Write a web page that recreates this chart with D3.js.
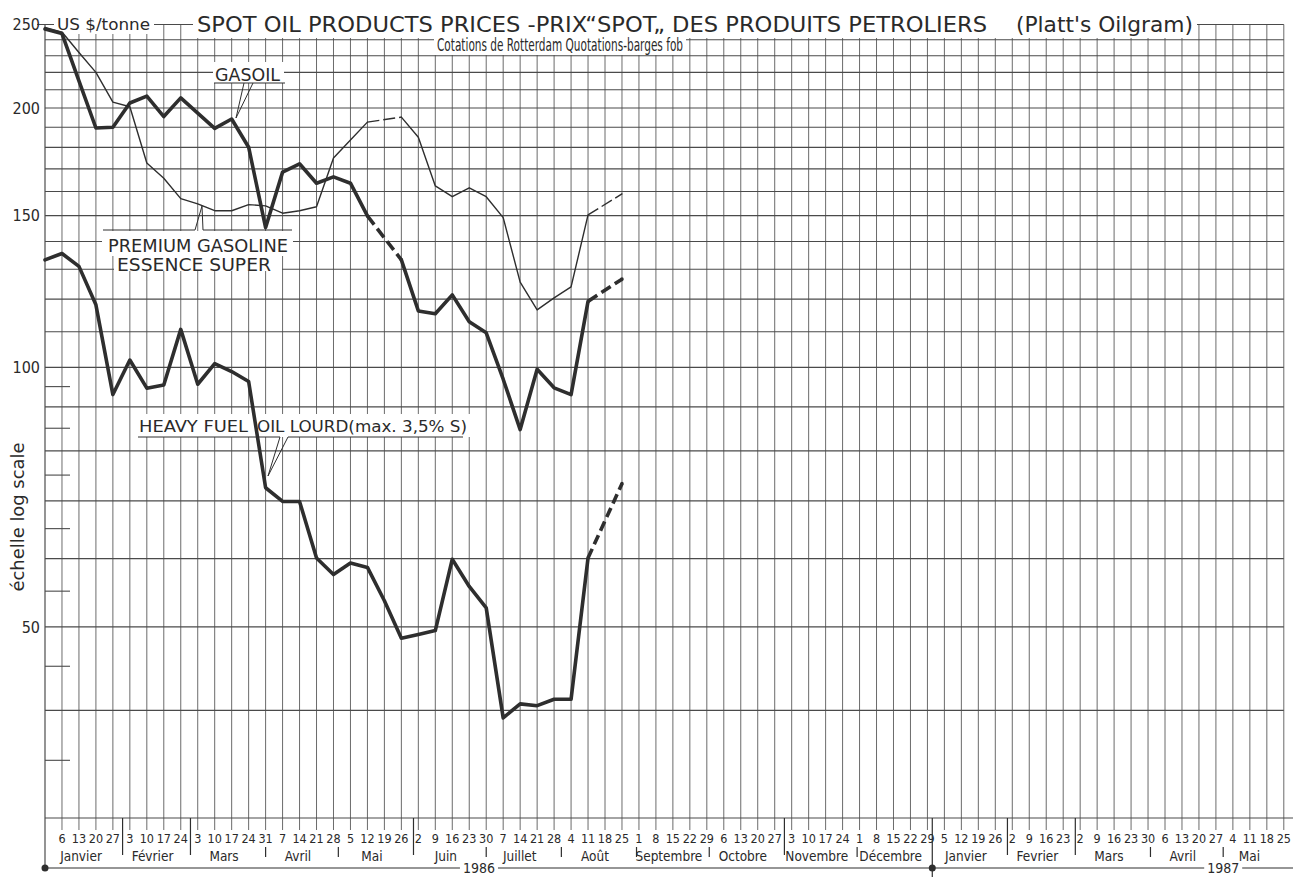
<!DOCTYPE html>
<html><head><meta charset="utf-8">
<script src="https://cdn.jsdelivr.net/npm/d3@7"></script>
<style>
html,body{margin:0;padding:0;background:#fff;}
svg{display:block;}
text{font-family:"DejaVu Sans Condensed","DejaVu Sans",sans-serif;font-stretch:condensed;fill:#2a2a2a;}
</style></head><body>
<svg id="c" width="1295" height="877"></svg>
<script>
// ---------------- data ----------------
const dates = ["1985-12-30","1986-01-06","1986-01-13","1986-01-20","1986-01-27",
  "1986-02-03","1986-02-10","1986-02-17","1986-02-24",
  "1986-03-03","1986-03-10","1986-03-17","1986-03-24","1986-03-31",
  "1986-04-07","1986-04-14","1986-04-21","1986-04-28",
  "1986-05-05","1986-05-12","1986-05-19","1986-05-26",
  "1986-06-02","1986-06-09","1986-06-16","1986-06-23","1986-06-30",
  "1986-07-07","1986-07-14","1986-07-21","1986-07-28",
  "1986-08-04","1986-08-11","1986-08-18","1986-08-25"];
const gasoil = [247,244,215,189.6,190,202.7,206.5,195.5,205.5,197.3,189.4,194.2,180.1,145.3,
  168.5,172.3,163.6,166.4,163.6,149.9,null,133.3,116.3,115.4,121.4,113,109.7,96.9,84.7,99.5,
  94.7,93,119.3,null,126.6];
const premiumGasoline = [248,245,232,220,203.2,200.7,172.7,165.8,157,154.8,152,152,154.5,154,
  151,152,153.6,175,183.6,192.6,null,195.2,185,162.4,157.8,161.6,157.8,149.2,125.6,116.6,
  120.4,124,150.3,null,159];
const heavyFuel = [133.3,135.6,131,118.2,93,102,94.6,95.4,110.7,95.6,101,98.9,96.3,72.5,
  69.9,69.9,60.1,57.5,59.3,58.6,53.6,48.5,49.0,49.5,59.9,55.7,52.6,39.2,40.7,40.5,41.2,41.2,
  60.1,null,73.3];
const yTickLabels = [250,200,150,100,50];
const yGridFull = [30,40,50,60,70,80,90,100,110,120,130,140,150,160,170,180,190,200,210,220,230,240,250];
const yGridShort = [35,45,55,65,75,85,95];
const monthNames = ["Janvier","Février","Mars","Avril","Mai","Juin","Juillet","Août","Septembre",
  "Octobre","Novembre","Décembre","Janvier","Fevrier","Mars","Avril","Mai"];
const yearLabels = ["1986","1987"];
const titleMain = "SPOT OIL PRODUCTS PRICES -PRIX\u201CSPOT\u201E DES PRODUITS PETROLIERS";
const titleSource = "(Platt's Oilgram)";
const unitLabel = "US $/tonne";
const subtitle = "Cotations de Rotterdam Quotations-barges fob";
const yAxisTitle = "échelle log scale";

// ---------------- setup ----------------
const parse = d3.timeParse("%Y-%m-%d");
const svg = d3.select("#c");
const start = parse("1985-12-30"), end = parse("1987-05-25");
const x = d3.scaleTime().domain([start, end]).range([45, 1283.8]);
const y = d3.scaleLog().domain([30, 250]).range([818, 24.5]);
const INK = "#2e2e2e", GRID = "#5a5a5a";

const weeks = d3.timeMonday.range(start, d3.timeDay.offset(end, 1));

// ---------------- grid ----------------
const grid = svg.append("g");
grid.selectAll("line.v").data(weeks).join("line")
  .attr("x1", d => x(d)).attr("x2", d => x(d))
  .attr("y1", y(250)).attr("y2", (d, i) => i === 0 ? 868 : 830)
  .attr("stroke", GRID).attr("stroke-width", (d, i) => i === 0 ? 1.3 : 0.9);
grid.selectAll("line.h").data(yGridFull).join("line")
  .attr("x1", d => d === 250 ? 37 : 45).attr("x2", d => d === 30 ? 1293 : x(end))
  .attr("y1", d => y(d)).attr("y2", d => y(d))
  .attr("stroke", "#4a4a4a").attr("stroke-width", 1.15);
grid.selectAll("line.s").data(yGridShort).join("line")
  .attr("x1", 45).attr("x2", 70)
  .attr("y1", d => y(d)).attr("y2", d => y(d))
  .attr("stroke", "#4a4a4a").attr("stroke-width", 1.1);

// ---------------- white label boxes (mask grid) ----------------
const boxes = [[54,13,100,21],[193,6,1004,32],[434,38,252,17],[213,62,71,21],
  [102,231,191,25],[114,256,168,15],[136,414,334,23]];
svg.append("g").selectAll("rect").data(boxes).join("rect")
  .attr("x", d => d[0]).attr("y", d => d[1]).attr("width", d => d[2]).attr("height", d => d[3])
  .attr("fill", "#fff");

// ---------------- series ----------------
function drawSeries(vals, w, dash) {
  const pts = dates.map((d, i) => ({ d: parse(d), v: vals[i] }));
  const line = d3.line().defined(p => p.v != null).x(p => x(p.d)).y(p => y(p.v));
  svg.append("path").attr("d", line(pts)).attr("fill", "none").attr("stroke", INK)
    .attr("stroke-width", w).attr("stroke-linejoin", "round").attr("stroke-linecap", "round");
  for (let i = 0; i < pts.length; i++) {
    if (pts[i].v == null) {
      let j = i - 1; while (j >= 0 && pts[j].v == null) j--;
      let k = i + 1; while (k < pts.length && pts[k].v == null) k++;
      if (j >= 0 && k < pts.length) {
        svg.append("path").attr("d", line([pts[j], pts[k]])).attr("fill", "none")
          .attr("stroke", INK).attr("stroke-width", w).attr("stroke-dasharray", dash);
      }
    }
  }
}
drawSeries(premiumGasoline, 1.4, "12,4");
drawSeries(gasoil, 3.6, "11,5");
drawSeries(heavyFuel, 3.6, "10,5");

// ---------------- annotations ----------------
const ann = svg.append("g").attr("stroke", INK).attr("stroke-width", 1).attr("fill", "none");
ann.append("path").attr("d", "M214,83H285 M244,83L236,118L253,83");
ann.append("path").attr("d", "M103,230H195 M203,230H292 M195,230L202,206L203,230");
ann.append("path").attr("d", "M138,437H280 M288,437H463 M280,437L268,476L288,437");

function label(t, x0, yb, fs, len) {
  svg.append("text").attr("x", x0).attr("y", yb).attr("font-size", fs)
    .attr("textLength", len).attr("lengthAdjust", "spacingAndGlyphs").text(t);
}
label("GASOIL", 215, 81, 18, 65);
label("PREMIUM GASOLINE", 108, 252, 18, 180);
label("ESSENCE SUPER", 117, 270.5, 18, 154);
label("HEAVY FUEL", 139, 432, 16, 109);
label("OIL LOURD(max. 3,5% S)", 257, 432, 16, 210);

// ---------------- title ----------------
label(titleMain, 197, 32, 21, 790);
label(titleSource, 1016, 32, 21, 177);
label(unitLabel, 57, 30, 15, 93);
label(subtitle, 437, 51, 17, 246);

// ---------------- y axis labels ----------------
svg.append("g").selectAll("text").data(yTickLabels).join("text")
  .attr("x", 40).attr("y", d => y(d)).attr("dy", "0.36em").attr("text-anchor", "end")
  .attr("font-size", 16).text(d => d);
svg.append("text").attr("transform", "translate(24,517) rotate(-90)")
  .attr("text-anchor", "middle").attr("font-size", 18)
  .attr("textLength", 149).attr("lengthAdjust", "spacingAndGlyphs").text(yAxisTitle);

// ---------------- x axis ----------------
const ax = svg.append("g");
const tickWeeks = weeks.slice(1);
ax.selectAll("text.n").data(tickWeeks).join("text")
  .attr("x", d => x(d)).attr("y", 843).attr("text-anchor", "middle")
  .attr("font-size", 12.5).text(d => d.getDate());

const monthEnds = d3.timeMonth.range(parse("1986-02-01"), parse("1987-05-02"))
  .map(m => d3.timeDay.offset(m, -1));
function labelHalf(d) { const s = String(d.getDate()); return s.length * 3.4 - (s === "1" ? 1.5 : 0); }
monthEnds.forEach(me => {
  const xs = x(me);
  const yearEnd = me.getMonth() === 11;
  const nearest = tickWeeks[d3.leastIndex(tickWeeks, t => Math.abs(x(t) - xs))];
  const collide = Math.abs(x(nearest) - xs) < labelHalf(nearest) + 0.6;
  if (yearEnd) {
    ax.append("line").attr("x1", xs).attr("x2", xs).attr("y1", 818).attr("y2", 877)
      .attr("stroke", INK).attr("stroke-width", 1.2);
  } else if (!collide) {
    ax.append("line").attr("x1", xs).attr("x2", xs).attr("y1", 818).attr("y2", 855)
      .attr("stroke", INK).attr("stroke-width", 1.2);
  } else {
    ax.append("line").attr("x1", xs).attr("x2", xs).attr("y1", 847).attr("y2", 857)
      .attr("stroke", INK).attr("stroke-width", 1.2);
  }
});
const bounds = [x(parse("1985-12-31"))].concat(monthEnds.map(d => x(d))).concat([x(end)]);
ax.selectAll("text.m").data(monthNames).join("text")
  .attr("x", (d, i) => (bounds[i] + bounds[i + 1]) / 2 - 4).attr("y", 861)
  .attr("text-anchor", "middle").attr("font-size", 13.5).text(d => d);

// year line
ax.append("line").attr("x1", 45).attr("x2", 1293).attr("y1", 868).attr("y2", 868)
  .attr("stroke", INK).attr("stroke-width", 1.2);
const yearAt = [parse("1986-06-27"), parse("1987-04-30")];
yearLabels.forEach((t, i) => {
  const cx = x(yearAt[i]);
  ax.append("rect").attr("x", cx - 19).attr("y", 861).attr("width", 38).attr("height", 15).attr("fill", "#fff");
  ax.append("text").attr("x", cx).attr("y", 873).attr("text-anchor", "middle")
    .attr("font-size", 14).text(t);
});
[start, parse("1986-12-31")].forEach(d => {
  ax.append("circle").attr("cx", x(d)).attr("cy", 868).attr("r", 3.5).attr("fill", INK);
});
</script>
</body></html>
